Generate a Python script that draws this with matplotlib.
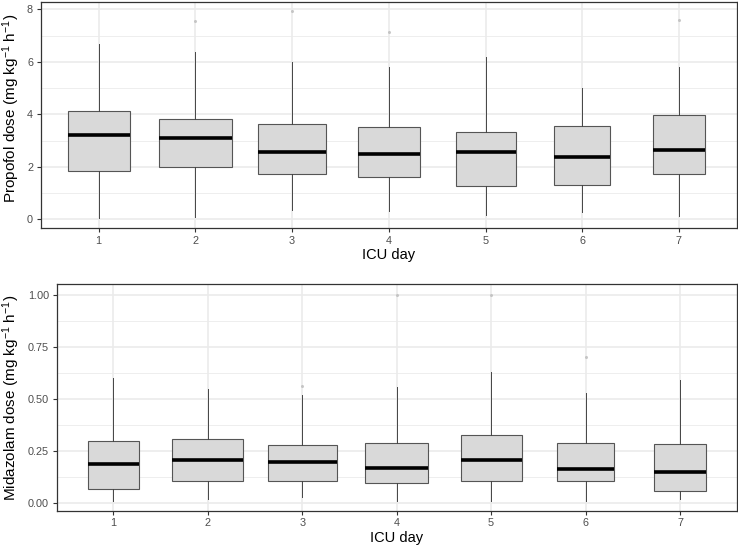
import matplotlib
matplotlib.use("Agg")
import matplotlib.pyplot as plt
from matplotlib.ticker import FixedLocator

plt.rcParams['font.family'] = ['Liberation Sans', 'DejaVu Sans']
plt.rcParams['mathtext.fontset'] = 'custom'
plt.rcParams['mathtext.rm'] = 'Liberation Sans'
plt.rcParams['mathtext.it'] = 'Liberation Sans:italic'

days = [1, 2, 3, 4, 5, 6, 7]
day_labels = ['1', '2', '3', '4', '5', '6', '7']

# Propofol (mg kg-1 h-1)
prop_whislo = [0.05, 0.08, 0.34, 0.30, 0.18, 0.28, 0.11]
prop_q1 = [1.85, 1.99, 1.71, 1.61, 1.28, 1.32, 1.72]
prop_med = [3.22, 3.11, 2.56, 2.47, 2.56, 2.38, 2.65]
prop_q3 = [4.14, 3.82, 3.65, 3.53, 3.34, 3.55, 3.96]
prop_whishi = [6.68, 6.38, 5.99, 5.81, 6.17, 4.99, 5.81]
prop_fliers = [[], [7.56], [7.93], [7.12], [], [], [7.61]]
prop_widths = [0.64, 0.76, 0.70, 0.645, 0.62, 0.58, 0.53]

# Midazolam (mg kg-1 h-1)
mid_whislo = [0.012, 0.019, 0.029, 0.010, 0.010, 0.012, 0.019]
mid_q1 = [0.070, 0.108, 0.108, 0.099, 0.108, 0.108, 0.059]
mid_med = [0.190, 0.209, 0.199, 0.169, 0.209, 0.164, 0.148]
mid_q3 = [0.297, 0.308, 0.277, 0.289, 0.328, 0.289, 0.282]
mid_whishi = [0.598, 0.548, 0.518, 0.558, 0.627, 0.528, 0.589]
mid_fliers = [[], [], [0.56], [1.0], [1.0], [0.699], []]
mid_widths = [0.54, 0.75, 0.73, 0.67, 0.645, 0.60, 0.55]

fig = plt.figure(figsize=(7.38, 5.52), dpi=100)
ax1 = fig.add_axes([0.0551, 0.587, 0.9435, 0.4094])
ax2 = fig.add_axes([0.0768, 0.0748, 0.9214, 0.4102])

GRID = '#EBEBEB'


def draw(ax, wlo, q1, med, q3, whi, fl, widths, ylim, major, minor, fmt,
         ylabel, label_x, label_y):
    stats = []
    for i in range(len(days)):
        stats.append(dict(whislo=wlo[i], q1=q1[i], med=med[i], q3=q3[i],
                          whishi=whi[i], fliers=fl[i]))
    ax.set_xlim(0.4, 7.6)
    ax.set_ylim(*ylim)
    for x in days:
        ax.axvline(x, color=GRID, lw=1.2, zorder=0)
    for y in major:
        ax.axhline(y, color=GRID, lw=1.2, zorder=0)
    for y in minor:
        ax.axhline(y, color=GRID, lw=0.6, zorder=0)
    ax.bxp(stats, positions=days, widths=widths, patch_artist=True,
           showcaps=False,
           boxprops=dict(facecolor='#D9D9D9', edgecolor='#555555', linewidth=0.8),
           medianprops=dict(color='black', linewidth=2.6, solid_capstyle='butt'),
           whiskerprops=dict(color='#444444', linewidth=0.7),
           flierprops=dict(marker='o', markersize=2.2, markerfacecolor='#BBBBBB',
                           markeredgecolor='none', alpha=0.8),
           zorder=2)
    ax.set_xticks(days)
    ax.set_xticklabels(day_labels)
    ax.yaxis.set_major_locator(FixedLocator(major))
    ax.set_yticklabels([fmt(v) for v in major])
    for s in ax.spines.values():
        s.set_color('#333333')
        s.set_linewidth(0.9)
    ax.tick_params(axis='both', colors='#333333', labelcolor='#4D4D4D',
                   labelsize=7.8, length=3, width=0.8, pad=2.5)
    ax.set_xlabel('ICU day', fontsize=10.5, color='black', labelpad=2)
    ax.set_ylabel(ylabel, fontsize=11, color='black')
    ax.yaxis.set_label_coords(label_x, label_y)


draw(ax1, prop_whislo, prop_q1, prop_med, prop_q3, prop_whishi, prop_fliers,
     prop_widths, (-0.33, 8.28), [0, 2, 4, 6, 8], [1, 3, 5, 7],
     lambda v: f'{v:d}', r'Propofol dose (mg kg$^{-1}$ h$^{-1}$)', -0.0265, 0.53)
draw(ax2, mid_whislo, mid_q1, mid_med, mid_q3, mid_whishi, mid_fliers,
     mid_widths, (-0.036, 1.049), [0, 0.25, 0.5, 0.75, 1.0],
     [0.125, 0.375, 0.625, 0.875],
     lambda v: f'{v:.2f}', r'Midazolam dose (mg kg$^{-1}$ h$^{-1}$)', -0.051, 0.5)

fig.savefig('out.png', dpi=100)
